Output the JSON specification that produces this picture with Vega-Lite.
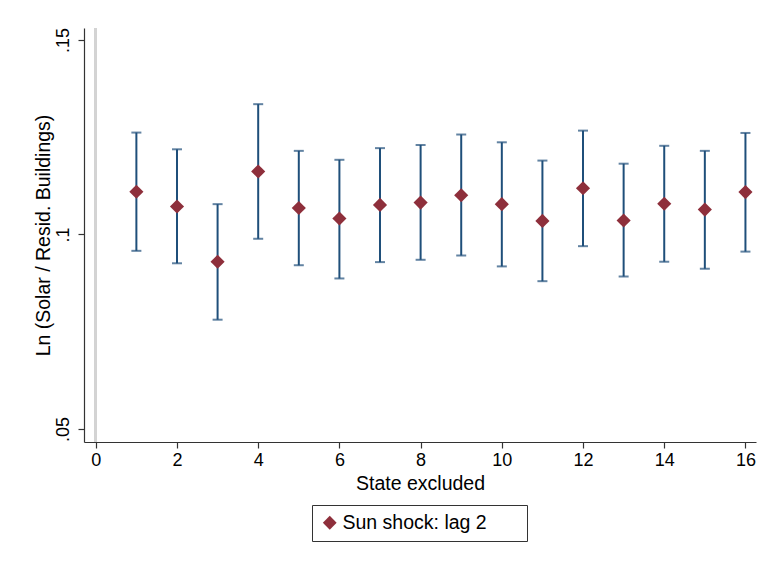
{
  "$schema": "https://vega.github.io/schema/vega-lite/v6.json",
  "width": 672,
  "height": 414,
  "autosize": {"type": "none"},
  "padding": {"left": 84, "top": 28, "right": 8, "bottom": 121},
  "background": "white",
  "config": {
    "view": {"stroke": null},
    "font": "Liberation Sans",
    "axis": {"grid": false, "domainColor": "#333333", "tickColor": "#333333", "labelColor": "#000000", "titleColor": "#000000", "labelFont": "Liberation Sans", "titleFont": "Liberation Sans", "titleFontWeight": "normal", "labelFontSize": 18, "titleFontSize": 19.5, "tickSize": 6, "domainWidth": 1.2, "tickWidth": 1.2}
  },
  "data": {
    "values": [
      {"state": 1, "est": 0.1110, "lo": 0.0958, "hi": 0.1262, "series": "Sun shock: lag 2"},
      {"state": 2, "est": 0.1072, "lo": 0.0926, "hi": 0.1219, "series": "Sun shock: lag 2"},
      {"state": 3, "est": 0.0930, "lo": 0.0781, "hi": 0.1078, "series": "Sun shock: lag 2"},
      {"state": 4, "est": 0.1162, "lo": 0.0989, "hi": 0.1335, "series": "Sun shock: lag 2"},
      {"state": 5, "est": 0.1068, "lo": 0.0921, "hi": 0.1215, "series": "Sun shock: lag 2"},
      {"state": 6, "est": 0.1041, "lo": 0.0887, "hi": 0.1192, "series": "Sun shock: lag 2"},
      {"state": 7, "est": 0.1076, "lo": 0.0929, "hi": 0.1222, "series": "Sun shock: lag 2"},
      {"state": 8, "est": 0.1082, "lo": 0.0935, "hi": 0.1230, "series": "Sun shock: lag 2"},
      {"state": 9, "est": 0.1101, "lo": 0.0946, "hi": 0.1257, "series": "Sun shock: lag 2"},
      {"state": 10, "est": 0.1078, "lo": 0.0918, "hi": 0.1237, "series": "Sun shock: lag 2"},
      {"state": 11, "est": 0.1035, "lo": 0.0880, "hi": 0.1190, "series": "Sun shock: lag 2"},
      {"state": 12, "est": 0.1119, "lo": 0.0970, "hi": 0.1267, "series": "Sun shock: lag 2"},
      {"state": 13, "est": 0.1036, "lo": 0.0892, "hi": 0.1182, "series": "Sun shock: lag 2"},
      {"state": 14, "est": 0.1079, "lo": 0.0930, "hi": 0.1228, "series": "Sun shock: lag 2"},
      {"state": 15, "est": 0.1064, "lo": 0.0912, "hi": 0.1215, "series": "Sun shock: lag 2"},
      {"state": 16, "est": 0.1109, "lo": 0.0956, "hi": 0.1261, "series": "Sun shock: lag 2"}
    ]
  },
  "encoding": {
    "x": {
      "field": "state", "type": "quantitative",
      "scale": {"domain": [-0.29, 16.26], "nice": false, "zero": false},
      "axis": {"values": [0, 2, 4, 6, 8, 10, 12, 14, 16], "title": "State excluded", "titlePadding": 5, "labelPadding": 3}
    }
  },
  "layer": [
    {
      "mark": {"type": "rule", "color": "#d4d4d4", "strokeWidth": 2},
      "encoding": {"x": {"datum": 0, "type": "quantitative"}, "y": null}
    },
    {
      "mark": {"type": "rule", "color": "#1F4F7A", "strokeWidth": 2},
      "encoding": {
        "y": {"field": "lo", "type": "quantitative",
          "scale": {"domain": [0.04666, 0.15308], "nice": false, "zero": false},
          "axis": {"values": [0.05, 0.1, 0.15], "labelExpr": "replace(format(datum.value, '.2~f'), '0.', '.')", "labelAngle": -90, "labelAlign": "center", "labelBaseline": "bottom", "labelPadding": 6, "title": "Ln (Solar / Resid. Buildings)", "titlePadding": 1}},
        "y2": {"field": "hi"}
      }
    },
    {
      "mark": {"type": "tick", "color": "#1F4F7A", "orient": "horizontal", "size": 10, "thickness": 2},
      "encoding": {"y": {"field": "lo", "type": "quantitative"}}
    },
    {
      "mark": {"type": "tick", "color": "#1F4F7A", "orient": "horizontal", "size": 10, "thickness": 2},
      "encoding": {"y": {"field": "hi", "type": "quantitative"}}
    },
    {
      "mark": {"type": "point", "shape": "diamond", "filled": true, "size": 200, "opacity": 1},
      "encoding": {
        "y": {"field": "est", "type": "quantitative"},
        "color": {"field": "series", "type": "nominal",
          "scale": {"range": ["#8E2F3B"]},
          "legend": {"title": "\u2003", "titleOrient": "right", "titlePadding": 32, "titleFontSize": 19.5, "orient": "none", "legendX": 228, "legendY": 477, "symbolType": "diamond", "symbolSize": 190, "symbolOpacity": 1, "labelFontSize": 19.5, "labelFont": "Liberation Sans", "labelColor": "#000000", "strokeColor": "#333333", "padding": 8, "labelOffset": 3, "labelLimit": 400, "fillColor": "white"}
        }
      }
    }
  ]
}
